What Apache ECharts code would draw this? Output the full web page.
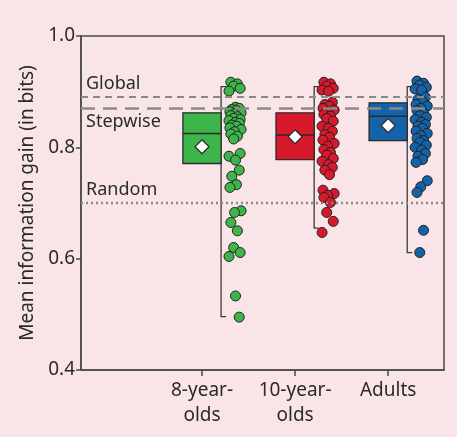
<!DOCTYPE html>
<html>
<head>
<meta charset="utf-8">
<script src="https://cdn.jsdelivr.net/npm/echarts@6/dist/echarts.min.js"></script>
<style>
html,body{margin:0;padding:0;background:#f9e5e7;}
#chart{width:457px;height:437px;}
</style>
</head>
<body>
<div id="chart"></div>
<script>
// ---- data ----
const categories = ['8-year-\nolds', '10-year-\nolds', 'Adults'];
const groupColors = ['#3db54a', '#d7192b', '#1462a8'];
// box statistics: [min, q1, median, q3, max, mean]
const stats8 = [0.496, 0.771, 0.825, 0.862, 0.909, 0.801];
const stats10 = [0.655, 0.778, 0.822, 0.862, 0.909, 0.819];
const statsAdults = [0.611, 0.812, 0.856, 0.880, 0.909, 0.839];
// individual participants
const points8 = [0.917, 0.914, 0.910, 0.906, 0.901,
  0.872, 0.870, 0.868, 0.866, 0.864, 0.862, 0.860, 0.857, 0.855, 0.852, 0.850,
  0.848, 0.845, 0.843, 0.840, 0.838, 0.835, 0.832, 0.828, 0.824, 0.820, 0.815,
  0.789, 0.784, 0.777, 0.759, 0.748, 0.733, 0.728, 0.686, 0.683, 0.665, 0.650,
  0.620, 0.611, 0.604, 0.533, 0.495];
const points10 = [0.917, 0.914, 0.910, 0.906, 0.903, 0.901,
  0.881, 0.877, 0.874, 0.870, 0.867, 0.863, 0.859, 0.856, 0.852, 0.847,
  0.838, 0.834, 0.829, 0.823, 0.818, 0.813, 0.807, 0.802, 0.796, 0.791, 0.786,
  0.780, 0.775, 0.769, 0.764, 0.759, 0.751,
  0.723, 0.717, 0.714, 0.710, 0.701, 0.683, 0.667, 0.647];
const pointsAdults = [0.919, 0.915, 0.912, 0.908, 0.905, 0.903,
  0.890, 0.886, 0.882, 0.877, 0.874, 0.870, 0.866, 0.861, 0.857, 0.854, 0.850,
  0.845, 0.841, 0.838, 0.834, 0.829, 0.825, 0.821, 0.816, 0.812, 0.809, 0.804,
  0.800, 0.795, 0.789, 0.784, 0.778, 0.773,
  0.740, 0.729, 0.719, 0.651, 0.611];
// jitter pattern (in category units, to the right of the whisker)
const jitter = [0.31, 0.38, 0.34, 0.41, 0.29, 0.36, 0.40, 0.32, 0.37, 0.30, 0.42, 0.35];
// reference models
const refNames = ['Global', 'Stepwise', 'Random'];
const refValues = [0.891, 0.872, 0.703];
const yTicks = [0.4, 0.6, 0.8, 1.0];

// ---- chart ----
const chart = echarts.init(document.getElementById('chart'));
const font = 'Noto Sans';
const ink = '#2a2a2a';
const boxHalf = 0.205;

const boxData = [stats8, stats10, statsAdults].map((s, i) => [i].concat(s));
const pointSets = [points8, points10, pointsAdults];

function renderBox(params, api) {
  const x = api.value(0);
  const mn = api.value(1), q1 = api.value(2), med = api.value(3), q3 = api.value(4), mx = api.value(5), mean = api.value(6);
  const tl = api.coord([x - boxHalf, q3]);
  const br = api.coord([x + boxHalf, q1]);
  const mL = api.coord([x - boxHalf, med]);
  const mR = api.coord([x + boxHalf, med]);
  const wTop = api.coord([x + boxHalf, mx]);
  const wBot = api.coord([x + boxHalf, mn]);
  const c = api.coord([x, mean]);
  const d = 7;
  const col = groupColors[params.dataIndex];
  return {
    type: 'group',
    children: [
      { type: 'polyline', shape: { points: [[wTop[0] + 5, wTop[1]], [wTop[0], wTop[1]], [wBot[0], wBot[1]], [wBot[0] + 5, wBot[1]]] },
        style: { stroke: '#3a3a3a', lineWidth: 1.3, fill: null } },
      { type: 'rect', shape: { x: tl[0], y: tl[1], width: br[0] - tl[0], height: br[1] - tl[1] },
        style: { fill: col, stroke: '#2a2a2a', lineWidth: 1.3 } },
      { type: 'line', shape: { x1: mL[0], y1: mL[1], x2: mR[0], y2: mR[1] },
        style: { stroke: '#2a2a2a', lineWidth: 1.5 } },
      { type: 'polygon', shape: { points: [[c[0], c[1] - d], [c[0] + d, c[1]], [c[0], c[1] + d], [c[0] - d, c[1]]] },
        style: { fill: '#ffffff', stroke: '#2a2a2a', lineWidth: 1.2 } }
    ]
  };
}

const lineStyles = [
  { color: '#8a8a8a', width: 2.2, type: [7, 5] },
  { color: '#8a8a8a', width: 2.6, type: [14, 8] },
  { color: '#8a8a8a', width: 2.4, type: [2, 3] }
];
const labelPos = ['insideStartTop', 'insideStartBottom', 'insideStartTop'];

const series = [
  {
    type: 'scatter', data: [], z: 1,
    markLine: {
      silent: true, symbol: 'none', animation: false,
      data: refValues.map((v, i) => ({
        yAxis: v,
        lineStyle: lineStyles[i],
        label: { show: true, position: labelPos[i], formatter: refNames[i], color: ink, fontSize: 18, fontFamily: font, distance: [5, i === 1 ? 5 : 4] }
      }))
    }
  },
  { type: 'custom', renderItem: renderBox, data: boxData, z: 3, animation: false }
];
pointSets.forEach((pts, g) => {
  series.push({
    type: 'scatter', z: 4, animation: false,
    symbolSize: 10,
    itemStyle: { color: groupColors[g], borderColor: '#222', borderWidth: 1, opacity: 1 },
    data: pts.map((v, i) => [g + jitter[i % jitter.length], v])
  });
});

chart.setOption({
  backgroundColor: '#f9e5e7',
  animation: false,
  grid: { left: 81, right: 13, top: 36, bottom: 67, show: true, borderColor: '#4a4a4a', borderWidth: 1.5, backgroundColor: 'transparent' },
  xAxis: {
    type: 'value', min: -1.3, max: 2.6,
    splitLine: { show: false },
    axisLine: { show: true, onZero: false, lineStyle: { color: '#4a4a4a', width: 1.5 } },
    axisTick: { show: true, customValues: [0, 1, 2], length: 6, lineStyle: { color: '#4a4a4a', width: 1.5 } },
    axisLabel: { customValues: [0, 1, 2], formatter: v => categories[Math.round(v)], color: ink, fontSize: 19, lineHeight: 25, fontFamily: font, margin: 8 }
  },
  yAxis: {
    type: 'value', min: 0.4, max: 1.0, interval: 0.2,
    splitLine: { show: false },
    axisLine: { show: true, onZero: false, lineStyle: { color: '#4a4a4a', width: 1.5 } },
    axisTick: { show: true, length: 5, lineStyle: { color: '#4a4a4a', width: 1.5 } },
    axisLabel: { formatter: v => v.toFixed(1), color: ink, fontSize: 19, fontFamily: font, margin: 6 },
    name: 'Mean information gain (in bits)', nameLocation: 'middle', nameGap: 44,
    nameTextStyle: { color: ink, fontSize: 19, fontFamily: font }
  },
  series: series
});
</script>
</body>
</html>
